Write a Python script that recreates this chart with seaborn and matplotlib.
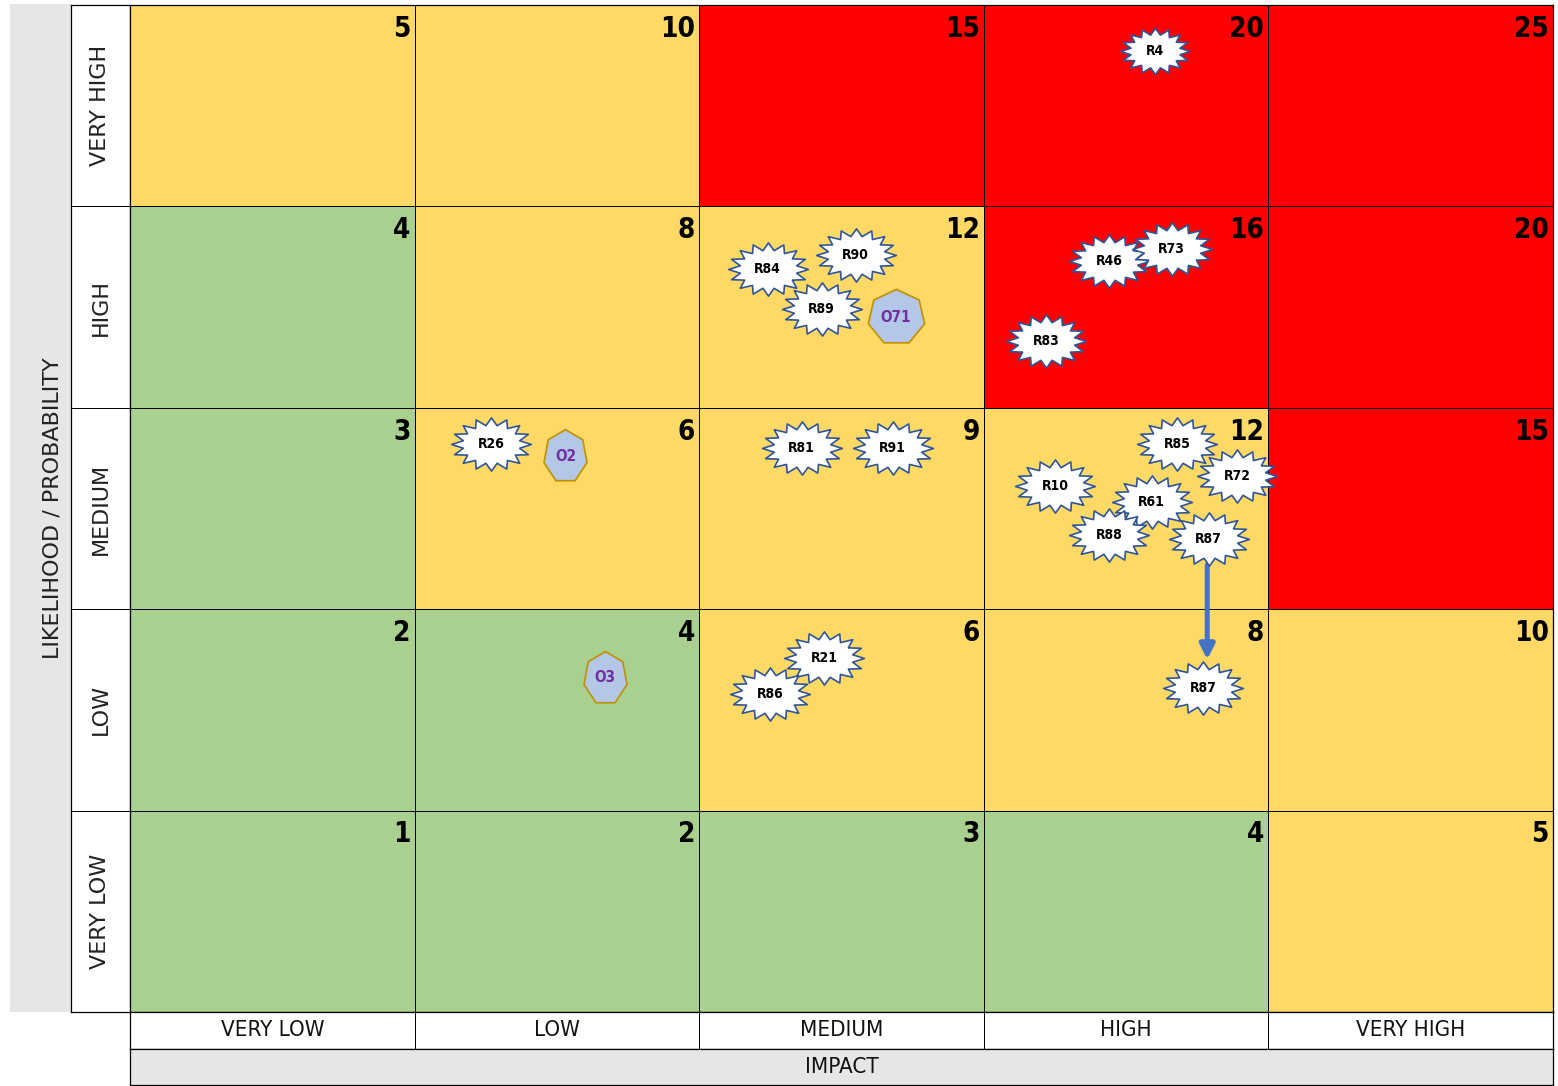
import matplotlib
matplotlib.use("Agg")
import matplotlib.pyplot as plt
import seaborn as sns
import numpy as np
import pandas as pd
from matplotlib.colors import ListedColormap
from matplotlib.path import Path

sns.set_theme(style="white")
plt.rcParams['font.family'] = ['DejaVu Sans']
NARROW = ['DejaVu Sans']

# ---- data ----
likelihood = ["VERY HIGH", "HIGH", "MEDIUM", "LOW", "VERY LOW"]   # rows, top -> bottom
impact = ["VERY LOW", "LOW", "MEDIUM", "HIGH", "VERY HIGH"]       # columns, left -> right
scores = [
    [5, 10, 15, 20, 25],
    [4, 8, 12, 16, 20],
    [3, 6, 9, 12, 15],
    [2, 4, 6, 8, 10],
    [1, 2, 3, 4, 5],
]
# 0 = green, 1 = amber, 2 = red
levels = [
    [1, 1, 2, 2, 2],
    [0, 1, 1, 2, 2],
    [0, 1, 1, 1, 2],
    [0, 0, 1, 1, 1],
    [0, 0, 0, 0, 1],
]

risk_ids = ["R4", "R84", "R90", "R89", "R46", "R73", "R83", "R26", "R81", "R91",
            "R85", "R72", "R10", "R61", "R88", "R87", "R21", "R86", "R87"]
risk_x = [3.60, 2.24, 2.55, 2.43, 3.44, 3.66, 3.22, 1.27, 2.36, 2.68,
          3.68, 3.89, 3.25, 3.59, 3.44, 3.79, 2.44, 2.25, 3.77]
risk_y = [0.23, 1.31, 1.24, 1.51, 1.27, 1.21, 1.67, 2.18, 2.20, 2.20,
          2.18, 2.34, 2.39, 2.47, 2.63, 2.65, 3.24, 3.42, 3.39]

opp_ids = ["O71", "O2", "O3"]
opp_x = [2.69, 1.53, 1.67]
opp_y = [1.55, 2.24, 3.34]

# R87 moves from MEDIUM/HIGH to LOW/HIGH
move_from = (3.785, 2.78)
move_to = (3.785, 3.25)

GREEN, AMBER, RED = "#A9D08E", "#FFD966", "#FF0000"
GREY = "#E7E6E6"

W, H = 1558, 1086
fig = plt.figure(figsize=(W / 100, H / 100), dpi=100)


def box(x0, y0, x1, y1):
    return [x0 / W, 1 - y1 / H, (x1 - x0) / W, (y1 - y0) / H]


def frame(ax, lw=0.9):
    for s in ax.spines.values():
        s.set_visible(True)
        s.set_color("black")
        s.set_linewidth(lw)


# grey band on the left
axg = fig.add_axes(box(10, 4, 71, 1012))
axg.set_facecolor(GREY)
axg.set_xticks([]); axg.set_yticks([])
for s in axg.spines.values():
    s.set_visible(False)
axg.text(0.7, 0.5, "LIKELIHOOD / PROBABILITY", rotation=90, ha="center", va="center",
         fontsize=16, color="#222222", transform=axg.transAxes)

# likelihood labels
axl = fig.add_axes(box(71, 5, 130, 1012))
sns.heatmap(pd.DataFrame(np.zeros((5, 1))), ax=axl, cmap=ListedColormap(["white"]),
            cbar=False, linewidths=0.5, linecolor="black", xticklabels=False, yticklabels=False)
frame(axl)
for i, lab in enumerate(likelihood):
    axl.text(0.5, i + 0.5, lab, rotation=90, ha="center", va="center", fontsize=16, color="#222222")

# matrix
ax = fig.add_axes(box(130, 5, 1553, 1012))
lev_df = pd.DataFrame(levels, index=likelihood, columns=impact)
sns.heatmap(lev_df, ax=ax, cmap=ListedColormap([GREEN, AMBER, RED]), vmin=0, vmax=2,
            cbar=False, linewidths=0.5, linecolor="black", xticklabels=False, yticklabels=False)
frame(ax)
ax.set_xlabel(""); ax.set_ylabel("")
for r in range(5):
    for c in range(5):
        ax.annotate(str(scores[r][c]), (c + 1, r), xytext=(-3, -7), textcoords="offset points",
                    ha="right", va="top", fontsize=20, fontweight="bold", family=NARROW,
                    fontstretch="condensed", color="black")

# starburst marker (elliptical explosion)
n = 16
ang = np.linspace(0, 2 * np.pi, 2 * n, endpoint=False) + np.pi / 2
rad = np.where(np.arange(2 * n) % 2 == 0, 1.0, 0.72)
verts = np.column_stack([1.5 * rad * np.cos(ang), rad * np.sin(ang)])
verts = np.vstack([verts, verts[:1]])
codes = [Path.MOVETO] + [Path.LINETO] * (2 * n - 1) + [Path.CLOSEPOLY]
star = Path(verts, codes)


def heptagon(sx):
    a = np.linspace(0, 2 * np.pi, 8)[:-1] + np.pi / 2
    v = np.column_stack([sx * np.cos(a), np.sin(a)])
    v = np.vstack([v, v[:1]])
    return Path(v, [Path.MOVETO] + [Path.LINETO] * 6 + [Path.CLOSEPOLY])


ax.annotate("", xy=move_to, xytext=move_from,
            arrowprops=dict(arrowstyle="-|>", color="#4472C4", lw=3.6, mutation_scale=22,
                            shrinkA=0, shrinkB=0), zorder=4)

for rid, x, y in zip(risk_ids, risk_x, risk_y):
    size = 2500 if rid == "R4" else 3300
    ax.scatter([x], [y], marker=star, s=size, facecolor="white", edgecolor="#2F5597",
               linewidth=1.2, zorder=5, clip_on=False)
    ax.text(x, y, rid, ha="center", va="center", fontsize=10, fontweight="bold",
            family=NARROW, fontstretch="condensed", color="black", zorder=6)

for oid, x, y in zip(opp_ids, opp_x, opp_y):
    if oid == "O71":
        mk, size = heptagon(1.03), 1650
    else:
        mk, size = heptagon(0.82), 1500
    ax.scatter([x], [y], marker=mk, s=size, facecolor="#B4C7E7", edgecolor="#BF9000",
               linewidth=1.2, zorder=5)
    ax.text(x, y, oid, ha="center", va="center", fontsize=11, fontweight="bold",
            color="#7030A0", family=NARROW, fontstretch="condensed", zorder=6)

# impact labels
axb = fig.add_axes(box(130, 1012, 1553, 1049))
sns.heatmap(pd.DataFrame(np.zeros((1, 5))), ax=axb, cmap=ListedColormap(["white"]),
            cbar=False, linewidths=0.5, linecolor="black", xticklabels=False, yticklabels=False)
frame(axb)
for j, lab in enumerate(impact):
    axb.text(j + 0.5, 0.5, lab, ha="center", va="center", fontsize=16, family=NARROW,
             fontstretch="condensed", color="#111111")

axi = fig.add_axes(box(130, 1049, 1553, 1085))
axi.set_facecolor(GREY)
axi.set_xticks([]); axi.set_yticks([])
frame(axi)
axi.text(0.5, 0.5, "IMPACT", ha="center", va="center", fontsize=16, family=NARROW,
         fontstretch="condensed", color="#111111", transform=axi.transAxes)

fig.savefig("out.png", dpi=100, facecolor="white")
